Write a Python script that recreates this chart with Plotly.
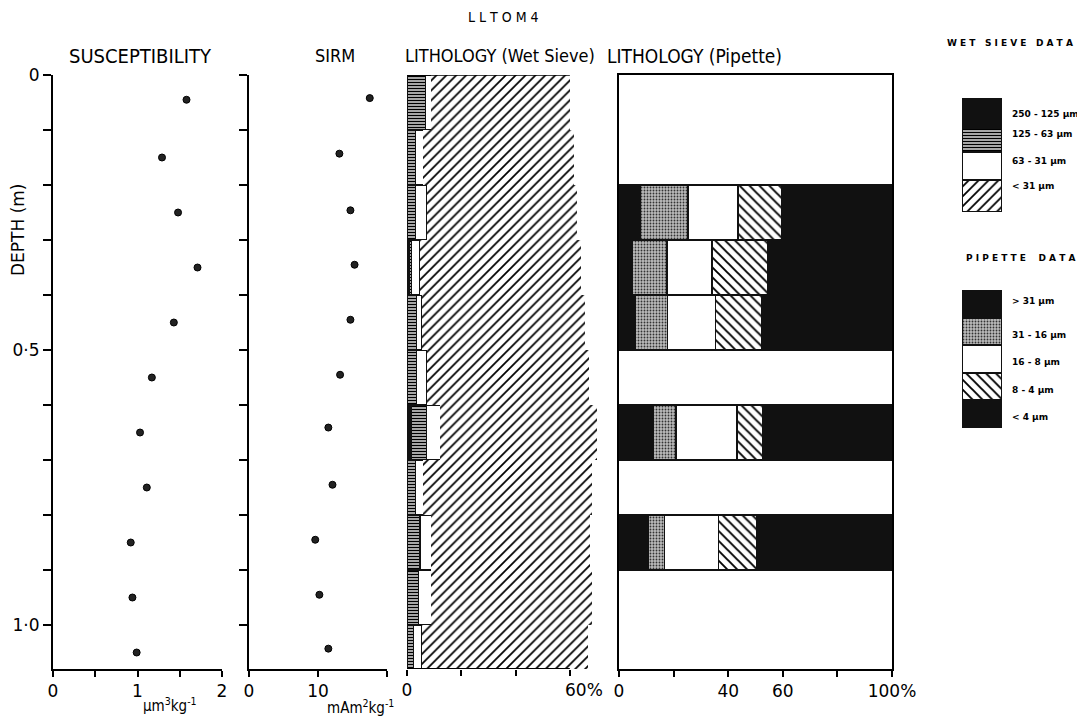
import plotly.graph_objects as go

# ---------------- data ----------------
sus_depth = [0.045, 0.15, 0.25, 0.35, 0.45, 0.55, 0.65, 0.75, 0.85, 0.95, 1.05]
susceptibility = [1.58, 1.29, 1.48, 1.71, 1.43, 1.17, 1.03, 1.11, 0.92, 0.94, 0.99]
sirm_depth = [0.042, 0.143, 0.246, 0.345, 0.445, 0.545, 0.641, 0.745, 0.845, 0.945, 1.043]
sirm = [17.5, 13.1, 14.7, 15.3, 14.7, 13.2, 11.5, 12.1, 9.6, 10.2, 11.5]

ws_depth = [0.05, 0.15, 0.25, 0.35, 0.45, 0.55, 0.65, 0.75, 0.85, 0.95, 1.04]
ws_thick = [0.1, 0.1, 0.1, 0.1, 0.1, 0.1, 0.1, 0.1, 0.1, 0.1, 0.08]
ws_250_125 = [0, 0, 0, 0.8, 0, 0, 1.7, 0, 0, 0, 0]
ws_125_63 = [6.7, 3.2, 3.2, 0.9, 3.6, 3.6, 5.6, 3.0, 4.8, 4.2, 2.3]
ws_63_31 = [2.2, 2.8, 4.1, 3.1, 1.8, 3.8, 4.9, 3.0, 4.1, 4.7, 3.1]
ws_lt31_shown = [51.1, 55.5, 55.5, 59.2, 60.1, 59.6, 57.8, 62.0, 58.6, 59.1, 61.4]

pip_depth = [0.25, 0.35, 0.45, 0.65, 0.85]
pip_thick = [0.1, 0.1, 0.1, 0.1, 0.1]
pip_gt31 = [7.7, 4.8, 5.9, 12.5, 10.6]
pip_31_16 = [17.6, 12.8, 12.0, 8.4, 6.2]
pip_16_8 = [18.3, 16.5, 17.3, 22.3, 19.5]
pip_8_4 = [16.1, 20.5, 17.2, 9.5, 14.2]
pip_lt4 = [40.3, 45.4, 47.6, 47.3, 49.5]

depth_ticks = [0, 0.1, 0.2, 0.3, 0.4, 0.5, 0.6, 0.7, 0.8, 0.9, 1.0]
depth_label_vals = [0, 0.5, 1.0]
depth_labels = ["0", "0·5", "1·0"]

ws_legend_labels = ["250 - 125 µm", "125 - 63 µm", "63 - 31 µm", "< 31 µm"]
pip_legend_labels = ["> 31 µm", "31 - 16 µm", "16 - 8 µm", "8 - 4 µm", "< 4 µm"]

# ---------------- layout helpers ----------------
W, H = 1085, 720
OFF = 8  # page body margin
def px(p):
    return (p - OFF) / W
def py(p):
    return 1 - (p - OFF) / H

FONT = "DejaVu Sans Condensed, Liberation Sans Narrow, Roboto, sans-serif"
TICKFONT = "DejaVu Sans, sans-serif"
ydom = [py(669), py(75)]
YR = [1.08, 0]

BLACK = "#111111"
HATCH_FWD = dict(shape="/", fgcolor="black", bgcolor="white", size=7, solidity=0.25)
HATCH_BACK = dict(shape="\\", fgcolor="black", bgcolor="white", size=7, solidity=0.27)
DASHES = dict(shape="-", fgcolor="black", bgcolor="#dddddd", size=3, solidity=0.5)
DOTS = dict(shape=".", fgcolor="#333333", bgcolor="#bbbbbb", size=3, solidity=0.3)
LINE = dict(color=BLACK, width=1.2)

fig = go.Figure()

fig.add_trace(go.Scatter(x=susceptibility, y=sus_depth, mode="markers",
                         marker=dict(size=7, color="#222", line=dict(color="black", width=1)),
                         xaxis="x", yaxis="y", showlegend=False))
fig.add_trace(go.Scatter(x=sirm, y=sirm_depth, mode="markers",
                         marker=dict(size=7, color="#222", line=dict(color="black", width=1)),
                         xaxis="x2", yaxis="y2", showlegend=False))

for vals, fill, pat, line in [
    (ws_250_125, BLACK, None, LINE),
    (ws_125_63, "white", DASHES, LINE),
    (ws_63_31, "white", None, LINE),
    (ws_lt31_shown, "white", HATCH_FWD, dict(width=0)),
]:
    m = dict(color=fill, line=line)
    if pat:
        m["pattern"] = pat
    fig.add_trace(go.Bar(x=vals, y=ws_depth, width=ws_thick, orientation="h",
                         marker=m, xaxis="x3", yaxis="y3", showlegend=False))

for vals, fill, pat in [
    (pip_gt31, BLACK, None),
    (pip_31_16, "white", DOTS),
    (pip_16_8, "white", None),
    (pip_8_4, "white", HATCH_BACK),
    (pip_lt4, BLACK, None),
]:
    m = dict(color=fill, line=LINE)
    if pat:
        m["pattern"] = pat
    fig.add_trace(go.Bar(x=vals, y=pip_depth, width=pip_thick, orientation="h",
                         marker=m, xaxis="x4", yaxis="y4", showlegend=False))

ws_leg_h = [30, 24, 28, 32]
for h, fill, pat in zip(ws_leg_h, [BLACK, "white", "white", "white"], [None, DASHES, None, HATCH_FWD]):
    m = dict(color=fill, line=LINE)
    if pat:
        m["pattern"] = pat
    fig.add_trace(go.Bar(x=[0], y=[h], width=1, marker=m, xaxis="x5", yaxis="y5", showlegend=False))
pip_leg_h = [28, 27, 28, 27, 28]
for h, fill, pat in zip(pip_leg_h, [BLACK, "white", "white", "white", BLACK], [None, DOTS, None, HATCH_BACK, None]):
    m = dict(color=fill, line=LINE)
    if pat:
        m["pattern"] = pat
    fig.add_trace(go.Bar(x=[0], y=[h], width=1, marker=m, xaxis="x6", yaxis="y6", showlegend=False))

axis_common = dict(showgrid=False, zeroline=False, linecolor="black", linewidth=2, automargin=False,
                   tickcolor="black", tickwidth=2, tickfont=dict(size=17, color="black", family=TICKFONT))
hidden = dict(visible=False, automargin=False, showgrid=False, zeroline=False)

def minor(vals, length):
    return dict(tickvals=vals, ticks="outside", ticklen=length, tickwidth=2,
                tickcolor="black", showgrid=False)

fig.update_layout(
    template="none",
    width=W, height=H, margin=dict(l=0, r=0, t=0, b=0, pad=0, autoexpand=False),
    paper_bgcolor="white", plot_bgcolor="rgba(0,0,0,0)",
    barmode="stack", font=dict(family=FONT, color="black"),
    xaxis=dict(domain=[px(53), px(222)], range=[0, 2], anchor="y", showline=True,
               ticks="outside", ticklen=6, tickvals=[0, 1, 2], ticktext=["0", "1", "2"],
               minor=minor([0.5, 1.5], 6), **axis_common),
    yaxis=dict(domain=ydom, range=YR, anchor="x", showline=True, ticks="outside",
               ticklen=8, tickvals=depth_label_vals, ticktext=depth_labels,
               minor=minor(depth_ticks, 8), **axis_common),
    xaxis2=dict(domain=[px(249), px(387)], range=[0, 20], anchor="y2", showline=True,
                ticks="outside", ticklen=6, tickvals=[0, 10], ticktext=["0", "10"],
                minor=minor([20], 6), **axis_common),
    yaxis2=dict(domain=ydom, range=YR, anchor="x2", showline=True, ticks="outside",
                ticklen=8, tickvals=depth_ticks, showticklabels=False, **axis_common),
    xaxis3=dict(domain=[px(407), px(597)], range=[0, 70], anchor="y3", showline=False,
                ticks="outside", ticklen=6, tickvals=[0], ticktext=["0"],
                minor=minor([20, 40, 60], 6), **axis_common),
    yaxis3=dict(domain=ydom, range=YR, anchor="x3", showline=False, ticks="",
                showticklabels=False, **axis_common),
    xaxis4=dict(domain=[px(619), px(892)], range=[0, 100], anchor="y4", showline=True,
                mirror=True, ticks="outside", ticklen=6, tickvals=[0, 40, 60, 100],
                ticktext=["0", "40", "60", "100%"], minor=minor([20, 80], 6), **axis_common),
    yaxis4=dict(domain=ydom, range=YR, anchor="x4", showline=True, mirror=True, ticks="",
                showticklabels=False, **axis_common),
    xaxis5=dict(domain=[px(962), px(1002)], range=[-0.5, 0.5], anchor="y5", **hidden),
    yaxis5=dict(domain=[py(212), py(98)], range=[sum(ws_leg_h), 0], anchor="x5", **hidden),
    xaxis6=dict(domain=[px(962), px(1002)], range=[-0.5, 0.5], anchor="y6", **hidden),
    yaxis6=dict(domain=[py(428), py(290)], range=[sum(pip_leg_h), 0], anchor="x6", **hidden),
)

fig.add_shape(type="line", x0=0, x1=60, y0=1.08, y1=1.08, xref="x3", yref="y3",
              line=dict(color="black", width=2))
fig.add_shape(type="line", x0=0, x1=60, y0=0, y1=0, xref="x3", yref="y3",
              line=dict(color="black", width=1.5))

def ann(text, x, y, size=15, xanchor="center", angle=0, bold=False, family=FONT):
    if bold:
        text = "<b>" + text + "</b>"
    fig.add_annotation(text=text, x=px(x), y=py(y), xref="paper", yref="paper",
                       showarrow=False, xanchor=xanchor, yanchor="middle", textangle=angle,
                       font=dict(size=size, color="black", family=family))

ann("L L T O M 4", 503, 17, size=14)
ann("SUSCEPTIBILITY", 140, 56, size=20)
ann("SIRM", 335, 56, size=18)
ann("LITHOLOGY (Wet Sieve)", 500, 56, size=18)
ann("LITHOLOGY (Pipette)", 694, 56, size=19)
ann("DEPTH (m)", 18, 230, size=17, angle=-90, family=TICKFONT)
ann("µm<sup>3</sup>kg<sup>-1</sup>", 170, 705, size=15)
ann("mAm<sup>2</sup>kg<sup>-1</sup>", 360, 707, size=15)
ann("60%", 584, 690, size=17, family=TICKFONT)

LEGF = "DejaVu Sans, sans-serif"
ann("W E T&nbsp;&nbsp; S I E V E&nbsp;&nbsp; D A T A", 1010, 43, size=9, bold=True, family=LEGF)
ann("P I P E T T E&nbsp;&nbsp;&nbsp; D A T A", 1020, 258, size=9, bold=True, family=LEGF)
for lab, yy in zip(ws_legend_labels, [114, 134, 161, 186]):
    ann(lab, 1010, yy, size=9, xanchor="left", bold=True, family=LEGF)
for lab, yy in zip(pip_legend_labels, [301, 335, 362, 390, 417]):
    ann(lab, 1010, yy, size=9, xanchor="left", bold=True, family=LEGF)

fig.write_html("out.html")
